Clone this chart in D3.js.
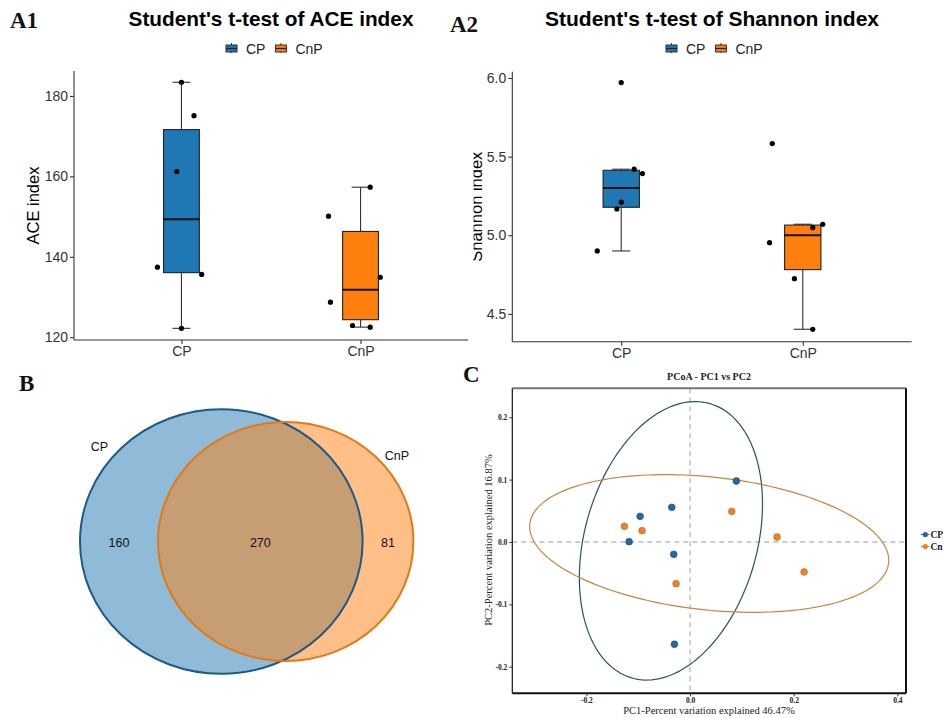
<!DOCTYPE html>
<html lang="en">
<head>
<meta charset="UTF-8">
<title>Alpha diversity, Venn and PCoA</title>
<script src="https://cdn.jsdelivr.net/npm/d3@7"></script>
<style>
  body { margin: 0; background: #fff; }
  text { font-family: "Liberation Sans", Arial, sans-serif; }
  .serif { font-family: "Liberation Serif", "Times New Roman", serif; }
</style>
</head>
<body>
<svg id="chart" width="943" height="718"></svg>
<script>
// ---- data ----
const groups = ["CP", "CnP"];
const groupColors = ["#1f77b4", "#ff7f0e"];

// ACE index per sample, with horizontal jitter (fraction of category step)
const aceCP = [183.4, 175.1, 161.2, 137.4, 135.6, 122.2];
const aceCnP = [157.3, 150.1, 134.9, 128.7, 122.9, 122.5];
const aceJitCP = [0, 0.07, -0.026, -0.134, 0.113, 0];
const aceJitCnP = [0.054, -0.179, 0.11, -0.168, -0.045, 0.054];
const aceTicks = [120, 140, 160, 180];

// Shannon index per sample
const shanCP = [5.971, 5.42, 5.392, 5.21, 5.167, 4.90];
const shanCnP = [5.583, 5.07, 5.048, 4.953, 4.724, 4.402];
const shanJitCP = [0, 0.071, 0.117, 0, -0.024, -0.132];
const shanJitCnP = [-0.168, 0.11, 0.055, -0.183, -0.046, 0.055];
const shanTicks = [4.5, 5.0, 5.5, 6.0];

// Venn counts: only CP, shared, only CnP
const vennCounts = [160, 270, 81];

// PCoA coordinates
const pcoaCPx = [0.0893, -0.0353, -0.0964, -0.1176, -0.0315, -0.0302];
const pcoaCPy = [0.0978, 0.0556, 0.0412, 0.0005, -0.0198, -0.164];
const pcoaCnPx = [0.0804, 0.1678, 0.2199, -0.1267, -0.0926, -0.027];
const pcoaCnPy = [0.0492, 0.008, -0.0481, 0.0251, 0.0181, -0.0668];
const pcoaTicks = [-0.2, 0.0, 0.2, 0.4];
const pcoaYTicks = [-0.2, -0.1, 0.0, 0.1, 0.2];

const svg = d3.select("#chart");
svg.append("rect").attr("width", 943).attr("height", 718).attr("fill", "#fff");

// ---- box plot panel ----
function boxPanel(g, o) {
  const x = d3.scalePoint().domain(groups).range([o.left, o.right]).padding(0.6);
  const y = d3.scaleLinear().domain(o.yDomain).range([o.bottom, o.top]);
  const step = x.step();

  g.append("text").attr("x", o.titleX).attr("y", 26)
    .attr("text-anchor", "middle").attr("font-size", o.titleSize).attr("font-weight", "bold")
    .attr("fill", "#000").text(o.title);

  // legend
  const leg = g.append("g").attr("transform", `translate(${o.legendX},43)`);
  let lx = 0;
  groups.forEach((k, i) => {
    const kg = leg.append("g").attr("transform", `translate(${lx},0)`);
    kg.append("line").attr("x1", 5.5).attr("x2", 5.5).attr("y1", 0).attr("y2", 10).attr("stroke", "#333");
    kg.append("rect").attr("x", 0).attr("y", 2).attr("width", 11).attr("height", 7)
      .attr("fill", groupColors[i]).attr("stroke", "#333").attr("stroke-width", 1);
    kg.append("line").attr("x1", 0).attr("x2", 11).attr("y1", 5.5).attr("y2", 5.5).attr("stroke", "#222").attr("stroke-width", 1.2);
    const t = kg.append("text").attr("x", 20).attr("y", 10.5).attr("font-size", 14).attr("fill", "#222").text(k);
    lx += 20 + t.node().getComputedTextLength() + 10;
  });

  // axes
  const ya = g.append("g").attr("transform", `translate(${o.left},0)`)
    .call(d3.axisLeft(y).tickValues(o.ticks).tickSize(4).tickPadding(2).tickFormat(o.fmt));
  ya.select(".domain").attr("d", `M0,${o.bottom}V${o.top}`);
  const xa = g.append("g").attr("transform", `translate(0,${o.bottom})`)
    .call(d3.axisBottom(x).tickSize(4).tickPadding(2));
  xa.select(".domain").attr("d", `M${o.left},0H${o.right}`);
  [ya, xa].forEach(a => {
    a.selectAll(".domain, line").attr("stroke", "#333").attr("stroke-width", 1.1);
    a.selectAll("text").attr("font-size", 14).attr("fill", "#333")
      .style("font-family", '"Liberation Sans", Arial, sans-serif');
  });

  g.append("text").attr("transform", `translate(${o.yTitleX},${(o.top + o.bottom) / 2}) rotate(-90)`)
    .attr("text-anchor", "middle").attr("font-size", 16.5).attr("fill", "#000").text(o.yTitle);

  // boxes computed from the samples
  o.series.forEach((vals, i) => {
    const s = vals.slice().sort(d3.ascending);
    const q1 = d3.quantile(s, 0.25), med = d3.quantile(s, 0.5), q3 = d3.quantile(s, 0.75);
    const iqr = q3 - q1;
    const lo = d3.min(s.filter(v => v >= q1 - 1.5 * iqr));
    const hi = d3.max(s.filter(v => v <= q3 + 1.5 * iqr));
    const cx = x(groups[i]);
    const bw = step * 0.2, cw = step * 0.1;
    const bg = g.append("g");
    bg.append("line").attr("x1", cx).attr("x2", cx).attr("y1", y(hi)).attr("y2", y(lo))
      .attr("stroke", "#333").attr("stroke-width", 1.1);
    [lo, hi].forEach(v => bg.append("line").attr("x1", cx - cw / 2).attr("x2", cx + cw / 2)
      .attr("y1", y(v)).attr("y2", y(v)).attr("stroke", "#333").attr("stroke-width", 1.1));
    bg.append("rect").attr("x", cx - bw / 2).attr("width", bw)
      .attr("y", y(q3)).attr("height", y(q1) - y(q3))
      .attr("fill", groupColors[i]).attr("stroke", "#222").attr("stroke-width", 1.1);
    bg.append("line").attr("x1", cx - bw / 2).attr("x2", cx + bw / 2)
      .attr("y1", y(med)).attr("y2", y(med)).attr("stroke", "#111").attr("stroke-width", 2);
    bg.selectAll("circle").data(vals).join("circle")
      .attr("cx", (d, j) => cx + o.jitter[i][j] * step)
      .attr("cy", d => y(d)).attr("r", 2.6).attr("fill", "#000");
  });
}

const gA1 = svg.append("g");
boxPanel(gA1, {
  left: 74, right: 468, top: 71, bottom: 340, yDomain: [119.3, 186.2],
  ticks: aceTicks, fmt: d3.format("d"), title: "Student's t-test of ACE index", titleSize: 20.8,
  titleX: 271, legendX: 226, yTitle: "ACE index", yTitleX: 39,
  series: [aceCP, aceCnP], jitter: [aceJitCP, aceJitCnP]
});

// the A2 panel is cut on its left side, like the pasted figure
svg.append("clipPath").attr("id", "clipA2").append("rect")
  .attr("x", 473.5).attr("y", 0).attr("width", 470).attr("height", 360);
const gA2 = svg.append("g").attr("clip-path", "url(#clipA2)");
boxPanel(gA2, {
  left: 512.3, right: 911.7, top: 71.7, bottom: 341.7, yDomain: [4.323, 6.04],
  ticks: shanTicks, fmt: d3.format(".1f"), title: "Student's t-test of Shannon index", titleSize: 21,
  titleX: 712, legendX: 666, yTitle: "Shannon index", yTitleX: 482,
  series: [shanCP, shanCnP], jitter: [shanJitCP, shanJitCnP]
});

// ---- panel labels ----
[["A1", 10, 28], ["A2", 450, 32], ["B", 19, 391], ["C", 463, 382]].forEach(([t, px, py]) => {
  svg.append("text").attr("class", "serif").attr("x", px).attr("y", py)
    .attr("font-size", 23).attr("font-weight", "bold").attr("fill", "#111").text(t);
});

// ---- Venn ----
const totals = [vennCounts[0] + vennCounts[1], vennCounts[1] + vennCounts[2]];
const rScale = d3.scaleSqrt().domain([0, d3.max(totals)]).range([0, 141.3]);
const vennAspect = 0.936;
const vennCy = 541.5;
const vennCx = [221.3, 285.7];
const vennFill = ["#1f77b4", "#ff7f0e"];
const vennStroke = ["#1b5a89", "#e07a16"];
const gB = svg.append("g");
totals.forEach((t, i) => {
  gB.append("ellipse").attr("cx", vennCx[i]).attr("cy", vennCy)
    .attr("rx", rScale(t)).attr("ry", rScale(t) * vennAspect)
    .attr("fill", vennFill[i]).attr("fill-opacity", 0.5);
});
totals.forEach((t, i) => {
  gB.append("ellipse").attr("cx", vennCx[i]).attr("cy", vennCy)
    .attr("rx", rScale(t)).attr("ry", rScale(t) * vennAspect)
    .attr("fill", "none").attr("stroke", vennStroke[i]).attr("stroke-width", 2);
});
const rCP = rScale(totals[0]), rCnP = rScale(totals[1]);
const countX = [(vennCx[0] - rCP + vennCx[1] - rCnP) / 2, (vennCx[1] - rCnP + vennCx[0] + rCP) / 2, (vennCx[0] + rCP + vennCx[1] + rCnP) / 2];
vennCounts.forEach((c, i) => {
  gB.append("text").attr("x", countX[i]).attr("y", 547).attr("text-anchor", "middle")
    .attr("font-size", 12.5).attr("fill", "#111").text(c);
});
gB.append("text").attr("x", 99.5).attr("y", 451).attr("text-anchor", "middle")
  .attr("font-size", 12.5).attr("fill", "#111").text(groups[0]);
gB.append("text").attr("x", 397).attr("y", 459.5).attr("text-anchor", "middle")
  .attr("font-size", 12.5).attr("fill", "#111").text(groups[1]);

// ---- PCoA ----
const cL = 512.3, cR = 906, cT = 388.3, cB = 693.3;
const xC = d3.scaleLinear().domain([-0.343, 0.4166]).range([cL, cR]);
const yC = d3.scaleLinear().domain([-0.2427, 0.2465]).range([cB, cT]);
const gC = svg.append("g");
const ptColors = ["#1f69a4", "#ea8229"];
const ptEdge = ["#17507d", "#c86a18"];
const ellColors = ["#28506c", "#c8853f"];

gC.append("text").attr("class", "serif").attr("x", 709).attr("y", 379.5)
  .attr("text-anchor", "middle").attr("font-size", 10).attr("font-weight", "bold")
  .attr("fill", "#222").text("PCoA - PC1 vs PC2");

gC.append("line").attr("x1", xC(0)).attr("x2", xC(0)).attr("y1", cT).attr("y2", cB)
  .attr("stroke", "#bbb").attr("stroke-width", 1.4).attr("stroke-dasharray", "5,4");
gC.append("line").attr("x1", cL).attr("x2", cR).attr("y1", yC(0)).attr("y2", yC(0))
  .attr("stroke", "#bbb").attr("stroke-width", 1.4).attr("stroke-dasharray", "5,4");

// 95% ellipses from sample covariance
const chi2 = 5.991;
const ellLine = d3.line().x(d => xC(d[0])).y(d => yC(d[1])).curve(d3.curveLinearClosed);
[[pcoaCPx, pcoaCPy], [pcoaCnPx, pcoaCnPy]].forEach(([xs, ys], i) => {
  const mx = d3.mean(xs), my = d3.mean(ys), n = xs.length;
  const sxx = d3.sum(xs, v => (v - mx) ** 2) / (n - 1);
  const syy = d3.sum(ys, v => (v - my) ** 2) / (n - 1);
  const sxy = d3.sum(xs, (v, j) => (v - mx) * (ys[j] - my)) / (n - 1);
  const l11 = Math.sqrt(sxx), l21 = sxy / l11, l22 = Math.sqrt(syy - l21 * l21);
  const r = Math.sqrt(chi2);
  const pts = d3.range(0, 2 * Math.PI, Math.PI / 90).map(t =>
    [mx + r * l11 * Math.cos(t), my + r * (l21 * Math.cos(t) + l22 * Math.sin(t))]);
  gC.append("path").attr("d", ellLine(pts)).attr("fill", "none")
    .attr("stroke", ellColors[i]).attr("stroke-width", 1.2);
});

[[pcoaCPx, pcoaCPy], [pcoaCnPx, pcoaCnPy]].forEach(([xs, ys], i) => {
  gC.append("g").selectAll("circle").data(xs).join("circle")
    .attr("cx", d => xC(d)).attr("cy", (d, j) => yC(ys[j])).attr("r", 3.4)
    .attr("fill", ptColors[i]).attr("stroke", ptEdge[i]).attr("stroke-width", 0.6);
});

// frame
gC.append("line").attr("x1", cL).attr("x2", cR).attr("y1", cT).attr("y2", cT).attr("stroke", "#777").attr("stroke-width", 2);
gC.append("line").attr("x1", cR).attr("x2", cR).attr("y1", cT).attr("y2", cB).attr("stroke", "#111").attr("stroke-width", 2);
gC.append("line").attr("x1", cL).attr("x2", cR).attr("y1", cB).attr("y2", cB).attr("stroke", "#111").attr("stroke-width", 2);
gC.append("line").attr("x1", cL).attr("x2", cL).attr("y1", cT).attr("y2", cB).attr("stroke", "#111").attr("stroke-width", 1.2);

const fmtC = d => d.toFixed(1);
const xaC = gC.append("g").attr("transform", `translate(0,${cB})`)
  .call(d3.axisBottom(xC).tickValues(pcoaTicks).tickSize(3).tickPadding(1).tickFormat(fmtC));
const yaC = gC.append("g").attr("transform", `translate(${cL},0)`)
  .call(d3.axisLeft(yC).tickValues(pcoaYTicks).tickSize(3).tickPadding(2).tickFormat(fmtC));
[xaC, yaC].forEach(a => {
  a.select(".domain").remove();
  a.selectAll("line").attr("stroke", "#333");
  a.selectAll("text").attr("font-size", 7.5).attr("font-weight", "bold").attr("fill", "#222")
    .style("font-family", '"Liberation Serif", "Times New Roman", serif');
});

gC.append("text").attr("class", "serif").attr("x", 709).attr("y", 714)
  .attr("text-anchor", "middle").attr("font-size", 10.5).attr("fill", "#222")
  .text("PC1-Percent variation explained 46.47%");
gC.append("text").attr("class", "serif").attr("transform", `translate(491.5,540) rotate(-90)`)
  .attr("text-anchor", "middle").attr("font-size", 10.5).attr("fill", "#222")
  .text("PC2-Percent variation explained 16.87%");

// legend (cut off by the page edge)
groups.forEach((k, i) => {
  const ly = 534.5 + i * 12;
  gC.append("line").attr("x1", 921).attr("x2", 929.5).attr("y1", ly).attr("y2", ly)
    .attr("stroke", ptColors[i]).attr("stroke-width", 1);
  gC.append("circle").attr("cx", 925.3).attr("cy", ly).attr("r", 2.6).attr("fill", ptColors[i]);
  gC.append("text").attr("class", "serif").attr("x", 930.5).attr("y", ly + 3.2)
    .attr("font-size", 9.5).attr("font-weight", "bold").attr("fill", "#222").text(k);
});
</script>
</body>
</html>
